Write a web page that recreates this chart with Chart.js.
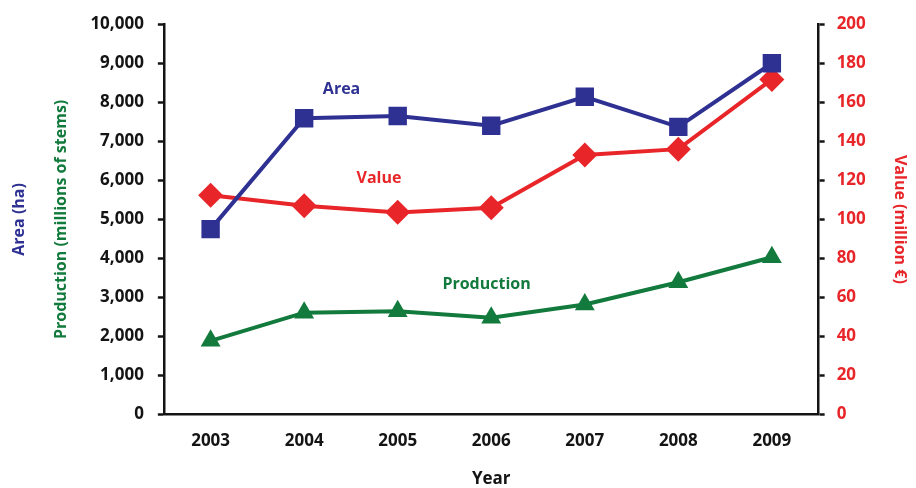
<!DOCTYPE html>
<html>
<head>
<meta charset="utf-8">
<script src="https://cdn.jsdelivr.net/npm/chart.js@4.4.1/dist/chart.umd.min.js"></script>
<style>
    html, body { margin: 0; padding: 0; background: #fff; }
    #wrap { width: 916px; height: 488px; }
</style>
</head>
<body>
<div id="wrap"><canvas id="chart"></canvas></div>
<script>
const years = ['2003', '2004', '2005', '2006', '2007', '2008', '2009'];
const area = [4750, 7590, 7650, 7400, 8140, 7370, 9000];            // ha
const production = [1890, 2610, 2650, 2480, 2820, 3390, 4030];      // millions of stems
const value = [112.4, 107, 103.6, 106, 133, 136, 171.7];           // million €

const blue = '#2e3192';
const red = '#e8262a';
const green = '#127a3c';
const ink = '#141414';

// in-plot series names, anchored in data space (category index, left-axis value)
const seriesLabels = [
    { text: 'Area', color: blue, at: [1.4, 8330] },
    { text: 'Value', color: red, at: [1.8, 6050] },
    { text: 'Production', color: green, at: [2.95, 3330] },
];

Chart.defaults.font.family = '"Open Sans", sans-serif';
Chart.defaults.font.weight = 'bold';
Chart.defaults.color = ink;

const seriesLabelPlugin = {
    id: 'seriesLabels',
    afterDatasetsDraw(chart) {
        const { ctx, scales } = chart;
        ctx.save();
        ctx.font = 'bold 16px "Open Sans", sans-serif';
        ctx.textAlign = 'center';
        ctx.textBaseline = 'middle';
        seriesLabels.forEach((l) => {
            ctx.fillStyle = l.color;
            ctx.fillText(l.text, scales.x.getPixelForValue(l.at[0]), scales.y.getPixelForValue(l.at[1]));
        });
        ctx.restore();
    },
};

const axisLine = { display: true, color: ink, width: 2.5 };
const tickMarks = { display: true, drawOnChartArea: false, drawTicks: true, tickLength: 6, color: ink, tickWidth: 2.5 };

new Chart(document.getElementById('chart'), {
    type: 'line',
    data: {
        labels: years,
        datasets: [
            {
                label: 'Area',
                data: area,
                yAxisID: 'yArea',
                borderColor: blue,
                backgroundColor: blue,
                borderWidth: 4,
                pointStyle: 'rect',
                pointRadius: 13,
                pointBorderWidth: 0,
            },
            {
                label: 'Value',
                data: value,
                yAxisID: 'yv',
                borderColor: red,
                backgroundColor: red,
                borderWidth: 4,
                pointStyle: 'rectRot',
                pointRadius: 12.5,
                pointBorderWidth: 0,
            },
            {
                label: 'Production',
                data: production,
                yAxisID: 'y',
                borderColor: green,
                backgroundColor: green,
                borderWidth: 4,
                pointStyle: 'triangle',
                pointRadius: 11.5,
                pointBorderWidth: 0,
            },
        ],
    },
    options: {
        responsive: true,
        maintainAspectRatio: false,
        animation: false,
        layout: { padding: { top: 9, right: 0, left: 10, bottom: 0 } },
        plugins: {
            legend: { display: false },
            tooltip: { enabled: false },
        },
        scales: {
            x: {
                offset: true,
                grid: { display: false, drawTicks: false },
                border: axisLine,
                ticks: { padding: 16, font: { size: 17 }, color: ink },
                title: { display: true, text: 'Year', color: ink, font: { size: 17, lineHeight: 1 }, padding: { top: 4, bottom: 0 } },
            },
            y: {
                position: 'left',
                min: 0,
                max: 10000,
                grid: tickMarks,
                border: axisLine,
                ticks: {
                    stepSize: 1000,
                    padding: 14,
                    color: ink,
                    font: { size: 17 },
                    callback: (v) => v.toLocaleString('en-US'),
                },
                title: { display: true, text: 'Production (millions of stems)', color: green, font: { size: 16 }, padding: { top: 0, bottom: 5 } },
            },
            yArea: {
                position: 'left',
                weight: 10,
                min: 0,
                max: 10000,
                grid: { display: false },
                border: { display: false },
                ticks: { display: false },
                title: { display: true, text: 'Area (ha)', color: blue, font: { size: 16 }, padding: { top: 0, bottom: 15 } },
            },
            yv: {
                position: 'right',
                min: 0,
                max: 200,
                grid: tickMarks,
                border: axisLine,
                ticks: { stepSize: 20, padding: 12, color: red, font: { size: 17 } },
                title: { display: true, text: 'Value (million €)', color: red, font: { size: 16 }, padding: { top: 7, bottom: 12 } },
            },
        },
    },
    plugins: [seriesLabelPlugin],
});
</script>
</body>
</html>
